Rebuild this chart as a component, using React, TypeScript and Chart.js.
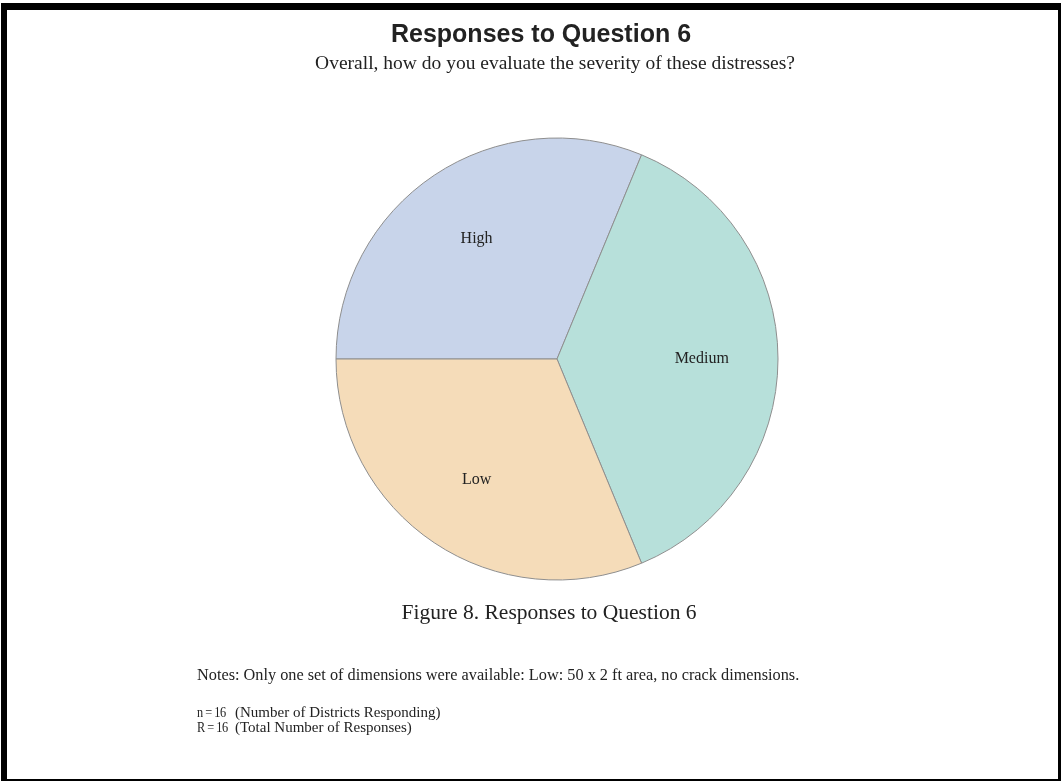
import React, { useEffect, useRef } from "react";
import { Chart, registerables } from "chart.js";

Chart.register(...registerables);

const categories = ["High", "Medium", "Low"];
const responses = [5, 6, 5];
const sliceColors = ["#c8d4ea", "#b7e0da", "#f5dcb9"];

const titleText = "Responses to Question 6";
const subtitleText = "Overall, how do you evaluate the severity of these distresses?";
const captionText = "Figure 8. Responses to Question 6";
const notesText = "Notes: Only one set of dimensions were available: Low: 50 x 2 ft area, no crack dimensions.";
const statLabels = ["n = 16", "R = 16"];
const statNotes = ["(Number of Districts Responding)", "(Total Number of Responses)"];

const W = 1061;
const H = 781;

const sliceLabelPlugin = {
  id: "sliceLabels",
  afterDatasetsDraw(chart: any) {
    const ctx = chart.ctx;
    const meta = chart.getDatasetMeta(0);
    ctx.save();
    ctx.font = "16px 'Liberation Serif'";
    ctx.fillStyle = "#222";
    ctx.textAlign = "center";
    ctx.textBaseline = "middle";
    meta.data.forEach((arc: any, i: number) => {
      const p = arc.getProps(["x", "y", "startAngle", "endAngle", "outerRadius"], true);
      const mid = (p.startAngle + p.endAngle) / 2;
      const r = p.outerRadius * 0.655;
      ctx.fillText(chart.data.labels[i], p.x + Math.cos(mid) * r, p.y + Math.sin(mid) * r);
    });
    ctx.restore();
  },
};

export default function App() {
  const ref = useRef<HTMLCanvasElement>(null);
  useEffect(() => {
    if (!ref.current) return;
    const chart = new Chart(ref.current, {
      type: "pie",
      data: {
        labels: categories,
        datasets: [
          {
            data: responses,
            backgroundColor: sliceColors,
            borderColor: "#8e8e8e",
            borderWidth: 1,
          },
        ],
      },
      options: {
        responsive: false,
        animation: false,
        rotation: 270,
        layout: { padding: { left: 335.5, right: 282.5, top: 137.5, bottom: 200.5 } },
        plugins: { legend: { display: false }, tooltip: { enabled: false }, title: { display: false } },
      },
      plugins: [sliceLabelPlugin],
    });
    return () => chart.destroy();
  }, []);

  const serif = "'Liberation Serif', 'Times New Roman', serif";
  const abs = (left: number, top: number, extra: any = {}) => ({
    position: "absolute" as const,
    left,
    top,
    whiteSpace: "nowrap" as const,
    lineHeight: 1,
    color: "#222",
    ...extra,
  });

  return (
    <div style={{ position: "absolute", left: 0, top: 0, width: W, height: H, overflow: "hidden", background: "#fff" }}>
      <canvas ref={ref} width={W} height={H} style={{ position: "absolute", left: 0, top: 0 }} />
      <div
        style={{
          position: "absolute",
          left: 1,
          top: 3,
          width: 1063 - 12,
          height: 781 - 12,
          borderLeft: "6px solid #000",
          borderTop: "7px solid #000",
          borderRight: "6px solid #000",
          borderBottom: "6px solid #000",
        }}
      />
      <div style={abs(541, 21, { transform: "translateX(-50%)", fontFamily: "'Liberation Sans', Arial, sans-serif", fontWeight: "bold", fontSize: 25 })}>
        {titleText}
      </div>
      <div style={abs(555, 53, { transform: "translateX(-50%)", fontFamily: serif, fontSize: 19.5 })}>{subtitleText}</div>
      <div style={abs(549, 602, { transform: "translateX(-50%)", fontFamily: serif, fontSize: 21.5 })}>{captionText}</div>
      <div style={abs(197, 667, { fontFamily: serif, fontSize: 16.3 })}>{notesText}</div>
      {statLabels.map((s, i) => (
        <React.Fragment key={s}>
          <div
            style={abs(197, 705 + i * 15, {
              fontFamily: serif,
              fontSize: 15,
              letterSpacing: -0.6,
              transform: "scaleX(0.82)",
              transformOrigin: "left center",
            })}
          >
            {s}
          </div>
          <div style={abs(235, 705 + i * 15, { fontFamily: serif, fontSize: 15 })}>{statNotes[i]}</div>
        </React.Fragment>
      ))}
    </div>
  );
}
